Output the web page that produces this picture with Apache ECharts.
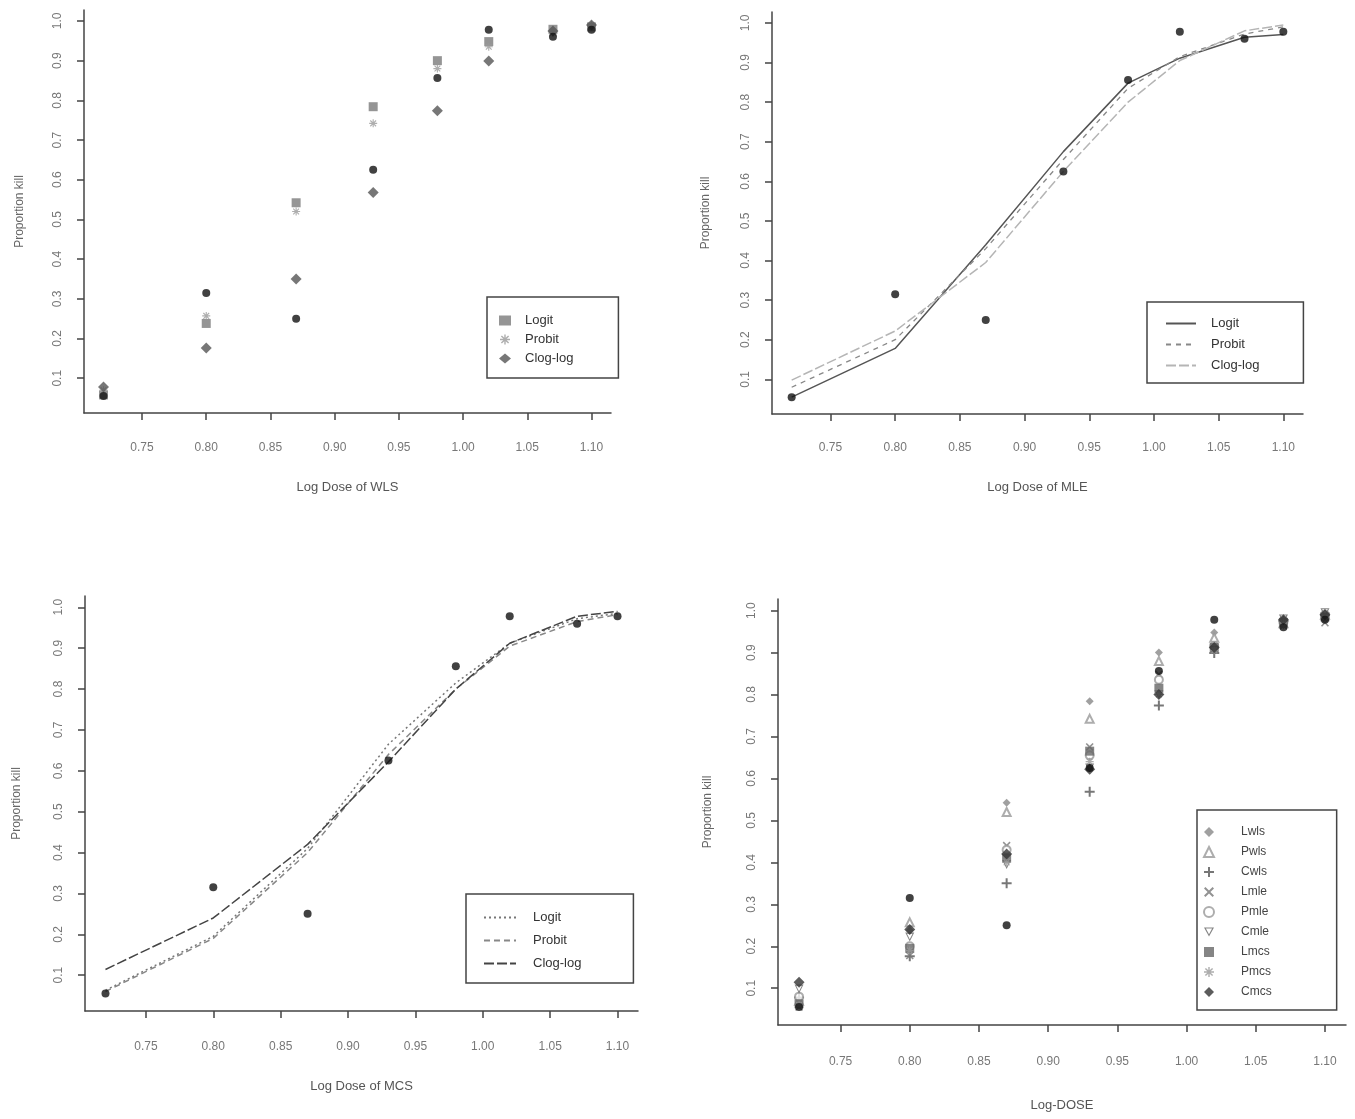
<!DOCTYPE html>
<html>
<head>
<meta charset="utf-8">
<script src="https://cdn.jsdelivr.net/npm/echarts@6/dist/echarts.min.js"></script>
<style>
html,body{margin:0;padding:0;background:#fff;}
#chart{width:1355px;height:1119px;}
</style>
</head>
<body>
<div id="chart"></div>
<script>
// ---- data ----
const logDose = [0.72, 0.80, 0.87, 0.93, 0.98, 1.02, 1.07, 1.10];
const observed = [0.055, 0.315, 0.25, 0.625, 0.856, 0.978, 0.96, 0.978];

const wlsLogit   = [0.058, 0.238, 0.542, 0.784, 0.900, 0.948, 0.979, 0.985];
const wlsProbit  = [0.070, 0.257, 0.520, 0.742, 0.880, 0.935, 0.970, 0.990];
const wlsCloglog = [0.078, 0.176, 0.350, 0.568, 0.774, 0.899, 0.975, 0.990];

const mleLogit   = [0.055, 0.178, 0.440, 0.675, 0.848, 0.911, 0.964, 0.971];
const mleProbit  = [0.080, 0.200, 0.430, 0.655, 0.835, 0.915, 0.972, 0.990];
const mleCloglog = [0.098, 0.222, 0.395, 0.625, 0.800, 0.905, 0.980, 0.995];

const mcsLogit   = [0.063, 0.195, 0.410, 0.665, 0.815, 0.912, 0.972, 0.985];
const mcsProbit  = [0.060, 0.190, 0.400, 0.640, 0.800, 0.905, 0.965, 0.982];
const mcsCloglog = [0.114, 0.240, 0.420, 0.622, 0.800, 0.912, 0.978, 0.990];

const xTicks = [0.75, 0.80, 0.85, 0.90, 0.95, 1.00, 1.05, 1.10];
const yTicks = [0.1, 0.2, 0.3, 0.4, 0.5, 0.6, 0.7, 0.8, 0.9, 1.0];

const xTitles = ['Log Dose of WLS', 'Log Dose of MLE', 'Log Dose of MCS', 'Log-DOSE'];
const yTitle = 'Proportion kill';

// ---- helpers ----
const pts = (ys) => logDose.map((x, i) => [x, ys[i]]);
const FONT = '"Liberation Sans", Arial, sans-serif';

const PLUS = 'path://M4,0H6V4H10V6H6V10H4V6H0V4H4Z';
const CROSS = 'path://M1.4,0L5,3.6L8.6,0L10,1.4L6.4,5L10,8.6L8.6,10L5,6.4L1.4,10L0,8.6L3.6,5L0,1.4Z';
const STAR = 'path://M4.3,0H5.7V3.3L8.1,0.9L9.1,1.9L6.7,4.3H10V5.7H6.7L9.1,8.1L8.1,9.1L5.7,6.7V10H4.3V6.7L1.9,9.1L0.9,8.1L3.3,5.7H0V4.3H3.3L0.9,1.9L1.9,0.9L4.3,3.3Z';
const DOWN_TRI = 'path://M0,0H10L5,9ZM1.9,1.1L5,6.7L8.1,1.1Z';

const grids = [
  {left: 84,  top: 10,  width: 527, height: 403},
  {left: 772, top: 12,  width: 531, height: 402},
  {left: 85,  top: 596, width: 553, height: 415},
  {left: 778, top: 599, width: 568, height: 426}
];
const xNameGap = [68, 67, 69, 74];
const xLabelMargin = [29, 28, 30, 31];
const yNameGap = [58, 60, 62, 64];

const xAxes = grids.map((g, i) => ({
  type: 'value', gridIndex: i, min: 0.7048, max: 1.1152,
  name: xTitles[i], nameLocation: 'middle', nameGap: xNameGap[i],
  nameTextStyle: {fontFamily: FONT, fontSize: 13, color: '#555'},
  splitLine: {show: false},
  axisLine: {show: true, onZero: false, lineStyle: {color: '#444', width: 1.5}},
  axisTick: {show: true, length: 7, customValues: xTicks, lineStyle: {color: '#444', width: 1.5}},
  axisLabel: {customValues: xTicks, margin: xLabelMargin[i], fontFamily: FONT, fontSize: 12, color: '#777',
    formatter: v => v.toFixed(2)}
}));
const yAxes = grids.map((g, i) => ({
  type: 'value', gridIndex: i, min: 0.0124, max: 1.0276,
  name: yTitle, nameLocation: 'middle', nameGap: yNameGap[i],
  nameTextStyle: {fontFamily: FONT, fontSize: 12, color: '#666'},
  splitLine: {show: false},
  axisLine: {show: true, onZero: false, lineStyle: {color: '#444', width: 1.5}},
  axisTick: {show: true, length: 7, customValues: yTicks, lineStyle: {color: '#444', width: 1.5}},
  axisLabel: {customValues: yTicks, rotate: 90, margin: 20, fontFamily: FONT, fontSize: 12, color: '#777',
    formatter: v => v.toFixed(1)}
}));

const obsSeries = (i) => ({
  name: 'obs' + i, type: 'scatter', xAxisIndex: i, yAxisIndex: i,
  data: pts(observed), symbol: 'circle', symbolSize: 8, z: 5,
  itemStyle: {color: '#111'}
});

const scat = (name, i, ys, symbol, color, size, extra) => Object.assign({
  name: name, type: 'scatter', xAxisIndex: i, yAxisIndex: i,
  data: pts(ys), symbol: symbol, symbolSize: size, itemStyle: {color: color}
}, extra || {});

const line = (name, i, ys, color, type, width) => ({
  name: name, type: 'line', xAxisIndex: i, yAxisIndex: i,
  data: pts(ys), symbol: 'none', smooth: false,
  lineStyle: {color: color, type: type, width: width}, itemStyle: {color: color}
});

const series = [
  // panel 1 (WLS)
  scat('Logit|1', 0, wlsLogit, 'rect', '#7a7a7a', 9),
  scat('Probit|1', 0, wlsProbit, STAR, '#9a9a9a', 8),
  scat('Clog-log|1', 0, wlsCloglog, 'diamond', '#555', 11),
  obsSeries(0),
  // panel 2 (MLE)
  line('Logit|2', 1, mleLogit, '#555', 'solid', 1.5),
  line('Probit|2', 1, mleProbit, '#888', [5, 5], 1.3),
  line('Clog-log|2', 1, mleCloglog, '#b5b5b5', [10, 3], 1.5),
  obsSeries(1),
  // panel 3 (MCS)
  line('Logit|3', 2, mcsLogit, '#777', [2, 3], 1.5),
  line('Probit|3', 2, mcsProbit, '#888', [6, 4], 1.5),
  line('Clog-log|3', 2, mcsCloglog, '#444', [10, 3], 1.5),
  obsSeries(2),
  // panel 4 (all)
  scat('Lwls', 3, wlsLogit, 'diamond', '#888', 8),
  scat('Pwls', 3, wlsProbit, 'emptyTriangle', '#999', 8),
  scat('Cwls', 3, wlsCloglog, PLUS, '#555', 10),
  scat('Lmle', 3, mleLogit, CROSS, '#777', 8),
  scat('Pmle', 3, mleProbit, 'emptyCircle', '#999', 8),
  scat('Cmle', 3, mleCloglog, DOWN_TRI, '#666', 9),
  scat('Lmcs', 3, mcsLogit, 'rect', '#666', 9),
  scat('Pmcs', 3, mcsProbit, STAR, '#999', 8),
  scat('Cmcs', 3, mcsCloglog, 'diamond', '#333', 11),
  obsSeries(3)
];

const legendBase = {
  orient: 'vertical', backgroundColor: '#fff',
  borderColor: '#444', borderWidth: 1.5, borderRadius: 0,
  formatter: n => n.split('|')[0], selectedMode: false
};
const ts = (size, color, padLeft) => ({fontFamily: FONT, fontSize: size, color: color, padding: [0, 0, 0, padLeft]});
const hideSym = {itemStyle: {opacity: 0, color: 'rgba(0,0,0,0)', borderWidth: 0}};

const legends = [
  Object.assign({}, legendBase, {left: 487, top: 297, padding: [17, 45, 13, 12], itemGap: 6,
    itemWidth: 12, itemHeight: 10, textStyle: ts(13, '#333', 9),
    data: ['Logit|1', 'Probit|1', 'Clog-log|1']}),
  Object.assign({}, legendBase, hideSym, {left: 1147, top: 302, padding: [15, 44, 11, 18], itemGap: 8,
    itemWidth: 30, itemHeight: 10, textStyle: ts(13, '#333', 10),
    data: ['Logit|2', 'Probit|2', 'Clog-log|2']}),
  Object.assign({}, legendBase, hideSym, {left: 466, top: 894, padding: [17, 52, 13, 17], itemGap: 10,
    itemWidth: 32, itemHeight: 10, textStyle: ts(13, '#333', 12),
    data: ['Logit|3', 'Probit|3', 'Clog-log|3']}),
  Object.assign({}, legendBase, {left: 1197, top: 810, padding: [16, 65, 12, 6], itemGap: 8,
    itemWidth: 10, itemHeight: 10, textStyle: ts(12, '#444', 22),
    data: ['Lwls', 'Pwls', 'Cwls', 'Lmle', 'Pmle', 'Cmle', 'Lmcs', 'Pmcs', 'Cmcs']})
];

const chart = echarts.init(document.getElementById('chart'), null, {renderer: 'canvas'});
chart.setOption({
  backgroundColor: '#fff',
  animation: false,
  grid: grids,
  xAxis: xAxes,
  yAxis: yAxes,
  legend: legends,
  series: series
});
</script>
</body>
</html>
